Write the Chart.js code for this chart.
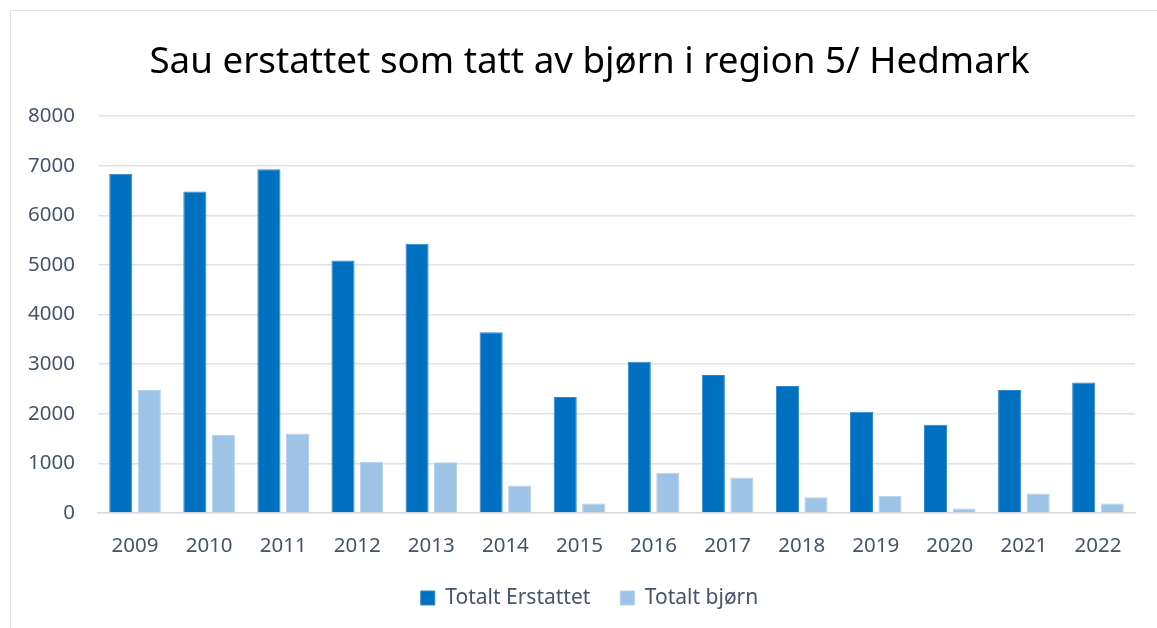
<!DOCTYPE html>
<html>
<head>
<meta charset="utf-8">
<script src="https://cdn.jsdelivr.net/npm/chart.js@4.4.1/dist/chart.umd.min.js"></script>
<style>
  html, body { margin: 0; padding: 0; background: #ffffff; }
  #wrap { position: relative; width: 1157px; height: 628px; overflow: hidden; }
  #frame { position: absolute; left: 10px; top: 10px; width: 1160px; height: 640px; border: 1.5px solid #dfe3e8; box-sizing: border-box; }
  canvas { position: absolute; left: 0; top: 0; }
</style>
</head>
<body>
<div id="wrap">
  <div id="frame"></div>
  <canvas id="c" width="1157" height="628"></canvas>
</div>
<script>
const categories = ["2009","2010","2011","2012","2013","2014","2015","2016","2017","2018","2019","2020","2021","2022"];
const totaltErstattet = [6840, 6480, 6930, 5090, 5425, 3645, 2340, 3050, 2780, 2560, 2040, 1780, 2480, 2630];
const totaltBjorn = [2480, 1570, 1600, 1035, 1025, 555, 190, 810, 715, 315, 350, 90, 395, 190];
const yTicks = [0, 1000, 2000, 3000, 4000, 5000, 6000, 7000, 8000];
const titleText = "Sau erstattet som tatt av bjørn i region 5/ Hedmark";
const seriesNames = ["Totalt Erstattet", "Totalt bjørn"];

const textColor = "#44546A";
const fontFam = "'Noto Sans', 'Open Sans', sans-serif";

new Chart(document.getElementById("c"), {
  type: "bar",
  data: {
    labels: categories,
    datasets: [
      { label: seriesNames[0], data: totaltErstattet, backgroundColor: "#0070C0", borderColor: "#2f86cc", borderWidth: 1 },
      { label: seriesNames[1], data: totaltBjorn, backgroundColor: "#9DC3E6", borderColor: "#b3d1ec", borderWidth: 1 }
    ]
  },
  options: {
    responsive: false,
    animation: false,
    layout: { padding: { left: 22, right: 0, top: 0, bottom: 9.5 } },
    datasets: { bar: { categoryPercentage: 0.77, barPercentage: 0.81 } },
    plugins: {
      title: {
        display: true,
        text: titleText,
        color: "#000000",
        font: { family: fontFam, size: 36.75, weight: "normal" },
        padding: { top: 40, bottom: 32 }
      },
      legend: {
        position: "bottom",
        labels: {
          color: textColor,
          font: { family: fontFam, size: 21 },
          boxWidth: 14, boxHeight: 14, padding: 30
        }
      },
      tooltip: { enabled: false }
    },
    scales: {
      x: {
        afterFit: (axis) => { axis.height = 44.5; },
        grid: { display: false, drawTicks: false },
        border: { display: true, color: "#d9dde3", width: 1.5 },
        ticks: { color: textColor, font: { family: fontFam, size: 20.5 }, padding: 21, maxRotation: 0 }
      },
      y: {
        min: 0, max: 8000,
        afterBuildTicks: (axis) => { axis.ticks = yTicks.map(v => ({ value: v })); },
        afterFit: (axis) => { axis.width = 76; },
        grid: { color: "#dde2e8", lineWidth: 1.5, drawTicks: false },
        border: { display: false },
        ticks: { color: textColor, font: { family: fontFam, size: 20.5 }, padding: 23, callback: (v) => String(v) }
      },
      ySpacer: {
        position: "right",
        display: true,
        min: 0, max: 8000,
        afterFit: (axis) => { axis.width = 22; },
        grid: { display: false, drawTicks: false },
        border: { display: false },
        ticks: { display: false }
      }
    }
  }
});
</script>
</body>
</html>
